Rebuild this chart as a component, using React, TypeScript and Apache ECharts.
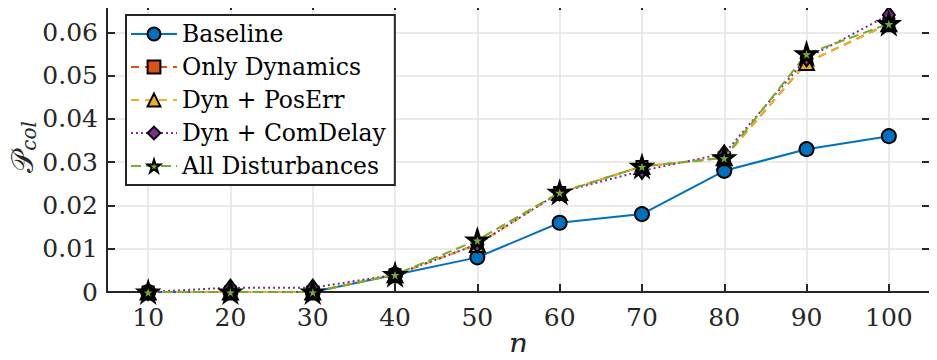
import React, { useEffect, useRef } from "react";
import * as echarts from "echarts";

const nValues = [10, 20, 30, 40, 50, 60, 70, 80, 90, 100];
const baseline = [0, 0, 0, 0.004, 0.008, 0.016, 0.018, 0.028, 0.033, 0.036];
const onlyDynamics = [0, 0, 0, 0.004, 0.011, 0.023, 0.029, 0.031, 0.053, 0.062];
const dynPosErr = [0, 0, 0, 0.004, 0.011, 0.023, 0.029, 0.031, 0.053, 0.062];
const dynComDelay = [0, 0.001, 0.001, 0.004, 0.011, 0.023, 0.028, 0.032, 0.054, 0.064];
const allDisturbances = [0, 0, 0, 0.004, 0.012, 0.023, 0.029, 0.031, 0.055, 0.062];
const seriesNames = ["Baseline", "Only Dynamics", "Dyn + PosErr", "Dyn + ComDelay", "All Disturbances"];

const STAR =
  "path://M100,0L122.45,69.1L195.1,69.1L136.3,111.8L158.8,180.9L100,138.2L41.2,180.9L63.7,111.8L4.9,69.1L77.55,69.1Z";

const FONT = "DejaVu Serif";
const AX = "#262626";

function pairs(vals: number[]) {
  return nValues.map((n, i) => [n, vals[i]]);
}

export default function App() {
  const ref = useRef<HTMLDivElement>(null);
  useEffect(() => {
    if (!ref.current) return;
    const chart = echarts.init(ref.current, null, { renderer: "svg" });
    const axisLineStyle = { color: AX, width: 2 };
    const fmt = (v: number) => {
      const r = Math.round(v * 1000) / 1000;
      return r === 0 ? "0" : r.toFixed(2);
    };
    const mk = (
      name: string,
      data: number[],
      color: string,
      type: any,
      symbol: string,
      size: any,
      z: number,
      bw = 2
    ) => ({
      name,
      type: "line",
      data: pairs(data),
      symbol,
      symbolSize: size,
      z,
      lineStyle: { color, width: 2, type },
      itemStyle: { color, borderColor: "#000", borderWidth: bw },
      emphasis: { disabled: true },
    });
    chart.setOption({
      animation: false,
      textStyle: { fontFamily: FONT },
      grid: { left: 107, right: 7, top: 2, bottom: 68, outerBoundsMode: "none", containLabel: false },
      legend: {
        left: 126,
        top: 15,
        orient: "vertical",
        data: seriesNames,
        itemWidth: 46,
        itemHeight: 16,
        itemGap: 7,
        padding: [6, 9, 6, 4],
        backgroundColor: "#fff",
        borderColor: AX,
        borderWidth: 2,
        borderRadius: 0,
        textStyle: { fontFamily: FONT, fontSize: 23.5, color: "#000", lineHeight: 26 },
      },
      xAxis: [
        {
          type: "value",
          min: 5,
          max: 105,
          splitNumber: 10,
          position: "bottom",
          name: "n",
          nameLocation: "middle",
          nameGap: 36,
          nameMoveOverlap: false,
          nameTextStyle: { fontFamily: FONT, fontStyle: "italic", fontSize: 30, color: AX },
          axisLine: { show: true, onZero: false, lineStyle: axisLineStyle },
          axisTick: { inside: true, length: 8, lineStyle: axisLineStyle },
          axisLabel: {
            margin: 13,
            fontFamily: FONT,
            fontSize: 25,
            color: AX,
            showMinLabel: false,
            showMaxLabel: false,
          },
          splitLine: { show: true, lineStyle: { color: "#e3e3e3", width: 1.5 } },
        },
        {
          type: "value",
          min: 5,
          max: 105,
          splitNumber: 10,
          position: "top",
          axisLine: { show: true, onZero: false, lineStyle: axisLineStyle },
          axisTick: { inside: true, length: 8, lineStyle: axisLineStyle },
          axisLabel: { show: false },
          splitLine: { show: false },
        },
      ],
      yAxis: [
        {
          type: "value",
          min: 0,
          max: 0.067,
          interval: 0.01,
          position: "left",
          name: "{p|𝒫}{s|col}",
          nameLocation: "middle",
          nameGap: 68,
          nameRotate: 90,
          nameMoveOverlap: false,
          nameTextStyle: {
            rich: {
              p: { fontFamily: FONT, fontSize: 30, color: AX, lineHeight: 34 },
              s: {
                fontFamily: FONT,
                fontStyle: "italic",
                fontSize: 20,
                color: AX,
                lineHeight: 34,
                verticalAlign: "bottom",
                padding: [10, 0, 0, 0],
              },
            },
          },
          axisLine: { show: true, onZero: false, lineStyle: axisLineStyle },
          axisTick: { inside: true, length: 8, lineStyle: axisLineStyle },
          axisLabel: {
            margin: 9,
            fontFamily: FONT,
            fontSize: 25,
            color: AX,
            showMaxLabel: false,
            formatter: fmt,
          },
          splitLine: { show: true, lineStyle: { color: "#e3e3e3", width: 1.5 } },
        },
        {
          type: "value",
          min: 0,
          max: 0.067,
          interval: 0.01,
          position: "right",
          axisLine: { show: true, onZero: false, lineStyle: axisLineStyle },
          axisTick: { inside: true, length: 8, lineStyle: axisLineStyle },
          axisLabel: { show: false },
          splitLine: { show: false },
        },
      ],
      series: [
        mk(seriesNames[0], baseline, "#0072BD", "solid", "circle", 14, 2),
        mk(seriesNames[1], onlyDynamics, "#D95319", [8, 6], "rect", 11, 3),
        mk(seriesNames[2], dynPosErr, "#EDB120", [8, 6], "triangle", 15, 4),
        mk(seriesNames[3], dynComDelay, "#7E2F8E", [2, 3], "diamond", [12, 16], 5),
        mk(seriesNames[4], allDisturbances, "#77AC30", [10, 5], STAR, 18, 6, 3),
      ],
    });
    return () => chart.dispose();
  }, []);
  return <div ref={ref} style={{ width: 937, height: 360, margin: -8 }} />;
}
